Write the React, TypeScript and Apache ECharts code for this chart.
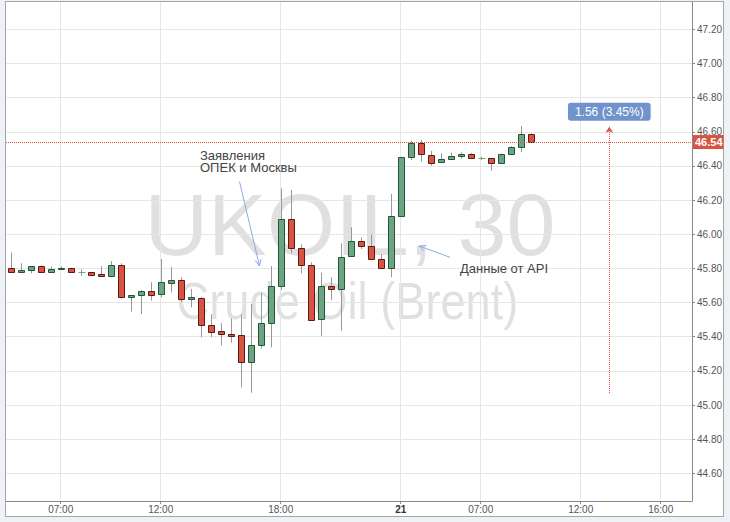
import { useEffect, useRef } from 'react';
import * as echarts from 'echarts';

// 30-minute candles, index 0 = 04:30 on the 20th
const OPEN = [
  45.803, 45.777, 45.793, 45.816, 45.777, 45.797, 45.803, 45.777, 45.777, 45.766,
  45.757, 45.818, 45.633, 45.643, 45.670, 45.649, 45.716, 45.732, 45.619, 45.629,
  45.471, 45.432, 45.418, 45.408, 45.250, 45.350, 45.479, 45.697, 46.089, 45.921,
  45.822, 45.502, 45.697, 45.679, 45.871, 45.959, 45.931, 45.853, 45.805, 46.105,
  46.452, 46.536, 46.466, 46.421, 46.442, 46.458, 46.472, 46.445, 46.445, 46.417,
  46.470, 46.513, 46.585,
];
const CLOSE = [
  45.777, 45.793, 45.812, 45.777, 45.798, 45.804, 45.777, 45.777, 45.763, 45.757,
  45.818, 45.633, 45.644, 45.670, 45.646, 45.719, 45.734, 45.619, 45.631, 45.467,
  45.430, 45.414, 45.404, 45.250, 45.353, 45.479, 45.697, 46.089, 45.922, 45.820,
  45.498, 45.697, 45.678, 45.869, 45.959, 45.933, 45.853, 45.804, 46.105, 46.451,
  46.536, 46.468, 46.419, 46.439, 46.456, 46.472, 46.448, 46.445, 46.417, 46.470,
  46.513, 46.585, 46.540,
];
const LOW = [
  45.775, 45.771, 45.771, 45.775, 45.773, 45.792, 45.777, 45.756, 45.756, 45.755,
  45.757, 45.625, 45.547, 45.533, 45.611, 45.631, 45.660, 45.602, 45.572, 45.397,
  45.397, 45.348, 45.365, 45.102, 45.072, 45.330, 45.338, 45.674, 45.889, 45.771,
  45.494, 45.404, 45.615, 45.435, 45.869, 45.914, 45.851, 45.795, 45.748, 46.105,
  46.435, 46.425, 46.401, 46.419, 46.435, 46.442, 46.442, 46.435, 46.372, 46.415,
  46.470, 46.480, 46.536,
];
const HIGH = [
  45.894, 45.830, 45.814, 45.818, 45.812, 45.811, 45.804, 45.795, 45.778, 45.814,
  45.843, 45.830, 45.645, 45.672, 45.719, 45.855, 45.807, 45.748, 45.680, 45.633,
  45.531, 45.479, 45.508, 45.531, 45.592, 45.654, 45.814, 46.269, 46.259, 45.941,
  45.836, 45.775, 45.748, 45.947, 46.041, 45.982, 46.001, 45.884, 46.236, 46.453,
  46.548, 46.552, 46.489, 46.474, 46.478, 46.480, 46.476, 46.455, 46.447, 46.473,
  46.516, 46.634, 46.590,
];

const X_TICK_INDEX = [5, 15, 27, 39, 47, 57, 65];
const X_TICK_LABELS = ['07:00', '12:00', '18:00', '21', '07:00', '12:00', '16:00'];
const Y_TICKS = [44.6, 44.8, 45.0, 45.2, 45.4, 45.6, 45.8, 46.0, 46.2, 46.4, 46.6, 46.8, 47.0, 47.2];

const LAST_PRICE = 46.54;
// price-range measurement drawn on the chart
const MEASURE_AT = 59.86;
const MEASURE_FROM = 45.07;
const MEASURE_TO = 46.63;
const MEASURE_LABEL = '1.56 (3.45%)';

const UP_FILL = '#6ba583';
const UP_BORDER = '#225437';
const DOWN_FILL = '#d75442';
const DOWN_BORDER = '#5b1a13';
const WICK = '#999999';
const FONT = '"Liberation Sans", Arial, sans-serif';
const WATERMARK = 'rgba(0,0,0,0.12)';

export default function App() {
  const chartRef = useRef<HTMLDivElement>(null);

  useEffect(() => {
    if (!chartRef.current) return;
    const chart = echarts.init(chartRef.current, null, { renderer: 'svg' });

    const candles = OPEN.map((o, i) => [i, o, CLOSE[i], LOW[i], HIGH[i]]);

    const option: any = {
      animation: false,
      textStyle: { fontFamily: FONT },
      grid: { left: 6, right: 38, top: 2, bottom: 21, outerBoundsMode: 'none' },
      xAxis: {
        type: 'value',
        min: -0.47,
        max: 68.13,
        axisLine: { show: true, onZero: false, lineStyle: { color: '#888' } },
        axisTick: { show: true, length: 3, customValues: X_TICK_INDEX, lineStyle: { color: '#888' } },
        axisLabel: {
          customValues: X_TICK_INDEX,
          color: '#555',
          fontSize: 10,
          margin: 3,
          formatter: (v: number) => {
            const s = X_TICK_LABELS[X_TICK_INDEX.indexOf(Math.round(v))] ?? '';
            return s.includes(':') ? s : `{b|${s}}`;
          },
          rich: { b: { fontWeight: 'bold', color: '#333', fontSize: 10 } },
        },
        splitLine: { show: true, lineStyle: { color: '#e6e6e6' } },
      },
      yAxis: {
        type: 'value',
        position: 'right',
        min: 44.438,
        max: 47.36,
        splitNumber: 14,
        axisLine: { show: true, onZero: false, lineStyle: { color: '#888' } },
        axisTick: { show: true, length: 3, customValues: Y_TICKS, lineStyle: { color: '#888' } },
        axisLabel: {
          customValues: Y_TICKS,
          color: '#555',
          fontSize: 10,
          margin: 5,
          formatter: (v: number) => v.toFixed(2),
        },
        splitLine: { show: true, lineStyle: { color: '#e6e6e6' } },
      },
      graphic: [
        {
          type: 'text', x: 350, y: 224, silent: true, z: 0,
          style: {
            text: 'UKOIL, 30', fontFamily: FONT, fontSize: 88,
            fill: WATERMARK, align: 'center', verticalAlign: 'middle',
          },
        },
        {
          type: 'text', x: 347.5, y: 301, scaleX: 0.87, silent: true, z: 0,
          style: {
            text: 'Crude Oil (Brent)', fontFamily: FONT, fontSize: 52,
            fill: WATERMARK, align: 'center', verticalAlign: 'middle',
          },
        },
        {
          type: 'text', x: 200, y: 149, z: 10,
          style: {
            text: 'Заявления\nОПЕК и Москвы', fontFamily: FONT, fontSize: 13,
            lineHeight: 12, fill: '#444', align: 'left', verticalAlign: 'top',
          },
        },
        {
          type: 'line', z: 10,
          shape: { x1: 239.5, y1: 181.5, x2: 259.5, y2: 266 },
          style: { stroke: '#8ea9e8', lineWidth: 1 },
        },
        {
          type: 'polyline', z: 10,
          shape: { points: [[260.9, 259.1], [259.5, 266], [255.2, 260.5]] },
          style: { stroke: '#8ea9e8', lineWidth: 1, fill: null },
        },
        {
          type: 'text', x: 460, y: 268, z: 10,
          style: {
            text: 'Данные от API', fontFamily: FONT, fontSize: 13,
            fill: '#444', align: 'left', verticalAlign: 'middle',
          },
        },
        {
          type: 'line', z: 10,
          shape: { x1: 450, y1: 257.3, x2: 419.3, y2: 246 },
          style: { stroke: '#8ea9e8', lineWidth: 1 },
        },
        {
          type: 'polyline', z: 10,
          shape: { points: [[424.2, 251], [419.3, 246], [426.3, 245.4]] },
          style: { stroke: '#8ea9e8', lineWidth: 1, fill: null },
        },
      ],
      series: [
        {
          type: 'custom',
          clip: true,
          encode: { x: 0, y: [1, 2, 3, 4] },
          data: candles,
          renderItem: (_params: any, api: any) => {
            const i = api.value(0);
            const o = api.value(1);
            const c = api.value(2);
            const lo = api.value(3);
            const hi = api.value(4);
            const pO = api.coord([i, o]);
            const pC = api.coord([i, c]);
            const yl = api.coord([i, lo])[1];
            const yh = api.coord([i, hi])[1];
            const cx = Math.round(pO[0]) + 0.5;
            const up = c >= o;
            const top = Math.round(Math.min(pO[1], pC[1])) + 0.5;
            const bot = Math.round(Math.max(pO[1], pC[1])) + 0.5;
            const children: any[] = [
              {
                type: 'line',
                shape: { x1: cx, y1: yh, x2: cx, y2: yl },
                style: { stroke: WICK, lineWidth: 1 },
              },
            ];
            if (bot - top < 1) {
              children.push({
                type: 'line',
                shape: { x1: cx - 3, y1: top, x2: cx + 4, y2: top },
                style: { stroke: UP_FILL, lineWidth: 1 },
              });
            } else {
              children.push({
                type: 'rect',
                shape: { x: cx - 3, y: top, width: 6, height: bot - top },
                style: {
                  fill: up ? UP_FILL : DOWN_FILL,
                  stroke: up ? UP_BORDER : DOWN_BORDER,
                  lineWidth: 1,
                },
              });
            }
            return { type: 'group', children };
          },
          markLine: {
            silent: true,
            animation: false,
            symbol: 'none',
            data: [
              {
                yAxis: LAST_PRICE,
                lineStyle: { color: DOWN_FILL, type: 'dotted', width: 1 },
                label: {
                  show: true,
                  position: 'end',
                  distance: 1,
                  formatter: LAST_PRICE.toFixed(2),
                  color: '#fff',
                  fontWeight: 'bold',
                  fontSize: 11,
                  lineHeight: 11,
                  backgroundColor: DOWN_FILL,
                  padding: [2, 1, 1, 2],
                },
              },
              [
                {
                  coord: [MEASURE_AT, MEASURE_FROM],
                  symbol: 'none',
                  lineStyle: { color: '#e0504a', type: 'dotted', width: 1 },
                  label: {
                    show: true,
                    position: 'end',
                    distance: 6,
                    formatter: MEASURE_LABEL,
                    color: '#fff',
                    fontSize: 12,
                    lineHeight: 12,
                    backgroundColor: '#7093cc',
                    borderRadius: 3,
                    padding: [3, 7, 3, 7],
                  },
                },
                { coord: [MEASURE_AT, MEASURE_TO], symbol: 'arrow', symbolSize: [6, 6] },
              ],
            ],
          },
        },
      ],
    };

    chart.setOption(option);
    return () => {
      chart.dispose();
    };
  }, []);

  return (
    <div style={{ position: 'fixed', left: 0, top: 0, width: 730, height: 522, background: '#eef1f5' }}>
      <div
        style={{
          position: 'absolute', left: 5, top: 1, width: 719, height: 516,
          boxSizing: 'border-box', border: '1px solid #a6a6a6', background: '#fff',
        }}
      />
      <div ref={chartRef} style={{ position: 'absolute', left: 0, top: 0, width: 730, height: 522 }} />
    </div>
  );
}
